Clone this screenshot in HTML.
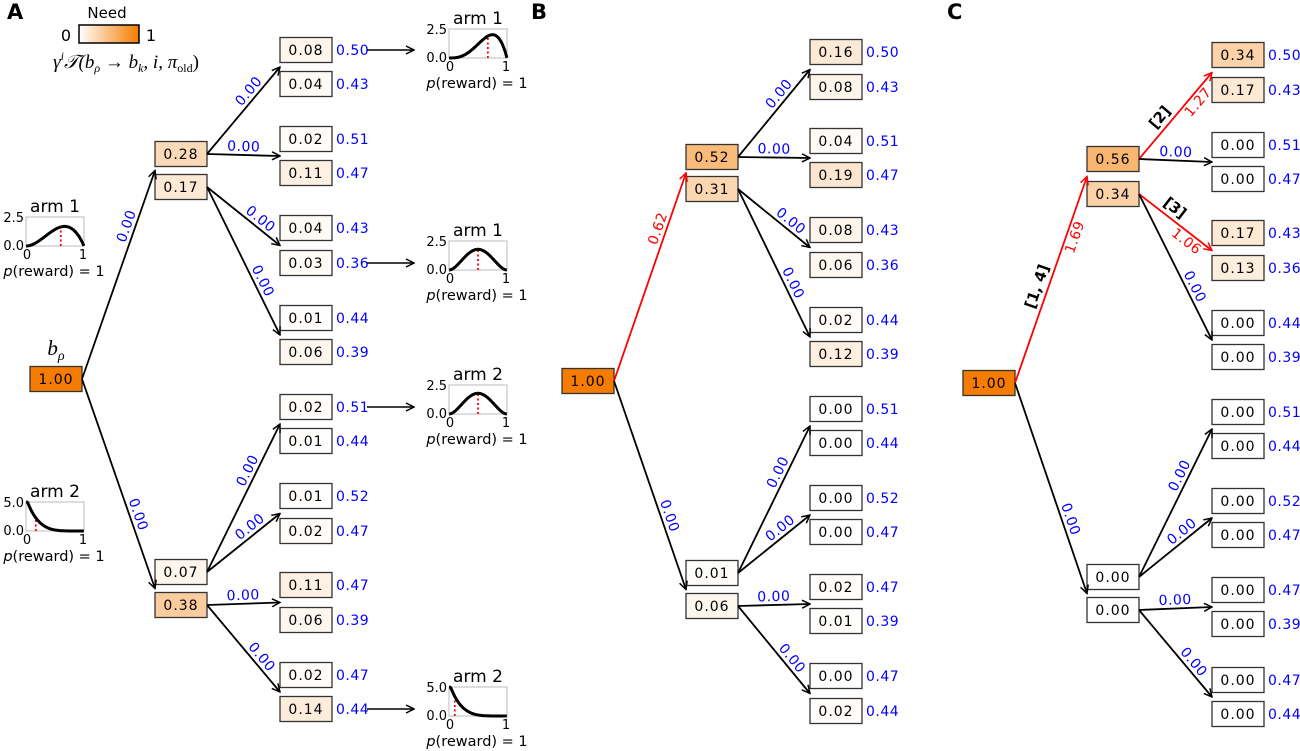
<!DOCTYPE html>
<html><head><meta charset="utf-8"><style>
body{margin:0;background:#fff}
svg{display:block;font-family:"DejaVu Sans","Liberation Sans",sans-serif}
</style></head><body>
<svg id="s" width="1300" height="751" viewBox="0 0 1300 751" xmlns="http://www.w3.org/2000/svg">
<defs>
<linearGradient id="g" x1="0" x2="1"><stop offset="0" stop-color="#fff"/><stop offset="1" stop-color="#f57c00"/></linearGradient>
<marker id="ak" markerWidth="10" markerHeight="10" refX="9" refY="5" orient="auto" markerUnits="userSpaceOnUse"><path d="M1,1 L9,5 L1,9" fill="none" stroke="#000" stroke-width="1.5"/></marker>
<marker id="ar" markerWidth="10" markerHeight="10" refX="9" refY="5" orient="auto" markerUnits="userSpaceOnUse"><path d="M1,1 L9,5 L1,9" fill="none" stroke="#f00" stroke-width="1.5"/></marker>
</defs>
<text x="7" y="19" font-size="21" font-weight="bold">A</text>
<text x="531" y="19" font-size="21" font-weight="bold">B</text>
<text x="947" y="19" font-size="21" font-weight="bold">C</text>
<g>
<text x="107" y="18" font-size="15" text-anchor="middle">Need</text>
<text x="66" y="41" font-size="16" text-anchor="middle">0</text>
<rect x="79" y="25" width="60" height="18" fill="url(#g)" stroke="#000" stroke-width="1.5"/>
<text x="151" y="41" font-size="16" text-anchor="middle">1</text>
<text x="126" y="68" font-size="19" text-anchor="middle" font-family="Liberation Serif,serif" font-style="italic">γ<tspan font-size="12" dy="-8">i</tspan><tspan dy="8">𝒯(b</tspan><tspan font-size="12" dy="4">ρ</tspan><tspan dy="-4"> → b</tspan><tspan font-size="12" dy="4">k</tspan><tspan dy="-4">, i, π</tspan><tspan font-size="12" dy="4" font-style="normal">old</tspan><tspan dy="-4" font-style="normal">)</tspan></text>
</g>
<text x="56" y="355" font-size="21" text-anchor="middle" font-family="Liberation Serif,serif" font-style="italic">b<tspan font-size="14" dy="5">ρ</tspan></text>
</svg>
<script>
// ---- data ----
const rootVals=[1.00,1.00,1.00];
const l1A=[0.28,0.17,0.07,0.38];
const l1B=[0.52,0.31,0.01,0.06];
const l1C=[0.56,0.34,0.00,0.00];
const leafA=[0.08,0.04,0.02,0.11,0.04,0.03,0.01,0.06,0.02,0.01,0.01,0.02,0.11,0.06,0.02,0.14];
const leafB=[0.16,0.08,0.04,0.19,0.08,0.06,0.02,0.12,0.00,0.00,0.00,0.00,0.02,0.01,0.00,0.02];
const leafC=[0.34,0.17,0.00,0.00,0.17,0.13,0.00,0.00,0.00,0.00,0.00,0.00,0.00,0.00,0.00,0.00];
const probs=[0.50,0.43,0.51,0.47,0.43,0.36,0.44,0.39,0.51,0.44,0.52,0.47,0.47,0.39,0.47,0.44];
const rootEdgeA=["0.00","0.00"], rootEdgeB=["0.62","0.00"], rootEdgeC=["1.69","0.00"];
const l1EdgeA=["0.00","0.00","0.00","0.00","0.00","0.00","0.00","0.00"];
const l1EdgeB=["0.00","0.00","0.00","0.00","0.00","0.00","0.00","0.00"];
const l1EdgeC=["1.27","0.00","1.06","0.00","0.00","0.00","0.00","0.00"];
const redRootB=[true,false], redRootC=[true,false];
const redL1C=[true,false,true,false,false,false,false,false];
const tagsC={root:"[1, 4]",e0:"[2]",e2:"[3]"};

const S=document.getElementById('s');const NS='http://www.w3.org/2000/svg';
function mk(t,a,p){const e=document.createElementNS(NS,t);for(const k in a)e.setAttribute(k,a[k]);(p||S).appendChild(e);return e;}
function fill(v){const r=Math.round(255-v*10),g=Math.round(255-v*131),b=Math.round(255-v*255);return `rgb(${r},${g},${b})`;}
function box(x,cy,v,name){const g=mk('g',{});


mk('rect',{x:x,y:cy-12.5,width:52,height:25,fill:fill(v),stroke:'#333','stroke-width':1.3},g);
const t=mk('text',{x:x+26,y:cy+5,'font-size':14,'text-anchor':'middle','letter-spacing':'1'},g);t.textContent=v.toFixed(2);}
function edge(x1,y1,x2,y2,lab,red,name,tag,f0){const col=red?'#f00':'#000';
const l=mk('line',{x1:x1,y1:y1,x2:x2,y2:y2,stroke:col,'stroke-width':1.8,'marker-end':red?'url(#ar)':'url(#ak)'});


let ang=Math.atan2(y2-y1,x2-x1)*180/Math.PI;
const f=Math.abs(y2-y1)<10?0.5:(f0||0.66);const mx=x1+(x2-x1)*f,my=y1+(y2-y1)*f;
const t=mk('text',{'font-size':14,fill:red?'#f00':'#00f','text-anchor':'middle','letter-spacing':'0.5',transform:`translate(${mx},${my}) rotate(${ang}) translate(0,${red&&tag?13:-4})`});


t.textContent=lab;
if(tag){const t2=mk('text',{'font-size':15,'font-weight':'bold','text-anchor':'middle',transform:`translate(${x1+(x2-x1)*(tag.f)},${y1+(y2-y1)*tag.f}) rotate(${ang}) translate(0,-6)`});


t2.textContent=tag.s;}}
function panel(p){
box(p.rx,p.ry,p.root,p.id+'-root-node');
const l1y=p.l1y;
for(let i=0;i<4;i++)box(p.lx,l1y[i],p.l1[i],p.id+'-level1-node-'+i);
for(let i=0;i<16;i++){box(p.fx,p.fy[i],p.leaf[i],p.id+'-leaf-node-'+i);
const t=mk('text',{x:p.fx+56,y:p.fy[i]+5,'font-size':14,fill:'#00f','letter-spacing':'0.5'});


t.textContent=probs[i].toFixed(2);}
const gy0=(l1y[0]+l1y[1])/2,gy1=(l1y[2]+l1y[3])/2;
edge(p.rx+52,p.ry,p.lx,gy0,p.re[0],p.rr[0],p.id+'-edge-root-up',p.tags&&{s:p.tags.root,f:0.45},0.72);
edge(p.rx+52,p.ry,p.lx,gy1,p.re[1],p.rr[1],p.id+'-edge-root-down',null,0.66);
for(let j=0;j<8;j++){const src=Math.floor(j/2);const gy=(p.fy[2*j]+p.fy[2*j+1])/2;
let tag=null;if(p.tags&&j==0)tag={s:p.tags.e0,f:0.4};if(p.tags&&j==2)tag={s:p.tags.e2,f:0.4};
edge(p.lx+52,l1y[src],p.fx,gy,p.le[j],p.lr[j],p.id+'-edge-l1-'+j,tag,tag?0.72:0.66);}
}
panel({id:'a',rx:30,ry:379,root:rootVals[0],lx:155,l1y:[154,187,572,605],l1:l1A,fx:280,
fy:[50,84,139,173,228,263,318,352,407,441,496,531,585,620,675,709],leaf:leafA,re:rootEdgeA,rr:[false,false],le:l1EdgeA,lr:Array(8).fill(false)});
panel({id:'b',rx:562,ry:381,root:rootVals[1],lx:686,l1y:[157,189,573,606],l1:l1B,fx:810,
fy:[52,87,141,175,230,265,320,354,409,443,498,532,587,621,676,711],leaf:leafB,re:rootEdgeB,rr:redRootB,le:l1EdgeB,lr:Array(8).fill(false)});
panel({id:'c',rx:963,ry:383,root:rootVals[2],lx:1087,l1y:[159,194,577,610],l1:l1C,fx:1212,
fy:[55,90,145,179,233,268,323,357,412,446,501,535,590,624,680,714],leaf:leafC,re:rootEdgeC,rr:redRootC,le:l1EdgeC,lr:redL1C,tags:tagsC});

// belief plots
const plotTitles=["arm 1","arm 1","arm 1","arm 2","arm 2","arm 2"];
const plotA=[4,3,3,3,1,1];
const plotB=[2,2,3,3,6,6];
const plotYmax=["2.5","2.5","2.5","2.5","5.0","5.0"];
const plotRed=[0.67,0.6,0.5,0.5,0.17,0.1];
const plotPos=[[449,29],[26,217],[449,241],[449,385],[26,502],[449,687]];
function lg(n){let r=0;for(let i=2;i<n;i++)r+=Math.log(i);return r;}
function beta(x,a,b){return Math.exp(lg(a+b)-lg(a)-lg(b)+(a-1)*Math.log(x)+(b-1)*Math.log(1-x));}
for(let k=0;k<6;k++){const [x0,y0]=plotPos[k];const w=58,h=29;
const g=mk('g',{});


const ym=parseFloat(plotYmax[k]);
mk('rect',{x:x0,y:y0,width:w,height:h,fill:'#fff',stroke:'#bbb','stroke-width':1},g);
let d='';for(let i=0;i<=60;i++){const x=Math.min(Math.max(i/60,0.001),0.999);let v=beta(x,plotA[k],plotB[k]);v=Math.min(v,ym*1.05);
d+=(i?'L':'M')+(x0+x*w).toFixed(1)+','+(y0+h-v/ym*h*0.95).toFixed(1);}
const rv=Math.min(beta(plotRed[k],plotA[k],plotB[k]),ym);
mk('line',{x1:x0+plotRed[k]*w,x2:x0+plotRed[k]*w,y1:y0+h,y2:y0+h-rv/ym*h*0.95,stroke:'#f00','stroke-width':1.8,'stroke-dasharray':'2,2.5'},g);
mk('path',{d:d,fill:'none',stroke:'#000','stroke-width':3},g);
const tt=mk('text',{x:x0+w/2,y:y0-5,'font-size':17,'text-anchor':'middle'},g);tt.textContent=plotTitles[k];
const a1=mk('text',{x:x0-2,y:y0+5,'font-size':13,'text-anchor':'end'},g);a1.textContent=plotYmax[k];
const a2=mk('text',{x:x0-2,y:y0+h+4,'font-size':13,'text-anchor':'end'},g);a2.textContent="0.0";
const b1=mk('text',{x:x0+1,y:y0+h+13,'font-size':13,'text-anchor':'middle'},g);b1.textContent="0";
const b2=mk('text',{x:x0+w-1,y:y0+h+13,'font-size':13,'text-anchor':'middle'},g);b2.textContent="1";
const pr=mk('text',{x:x0+w/2-1,y:y0+h+30,'font-size':14.5,'text-anchor':'middle'},g);pr.innerHTML='<tspan font-style="italic">p</tspan>(reward) = 1';}
const arrowY=[50,263,407,709];
for(let i=0;i<4;i++){const l=mk('line',{x1:367,y1:arrowY[i],x2:414,y2:arrowY[i],stroke:'#000','stroke-width':1.5,'marker-end':'url(#ak)'});

}
</script>
</body></html>
